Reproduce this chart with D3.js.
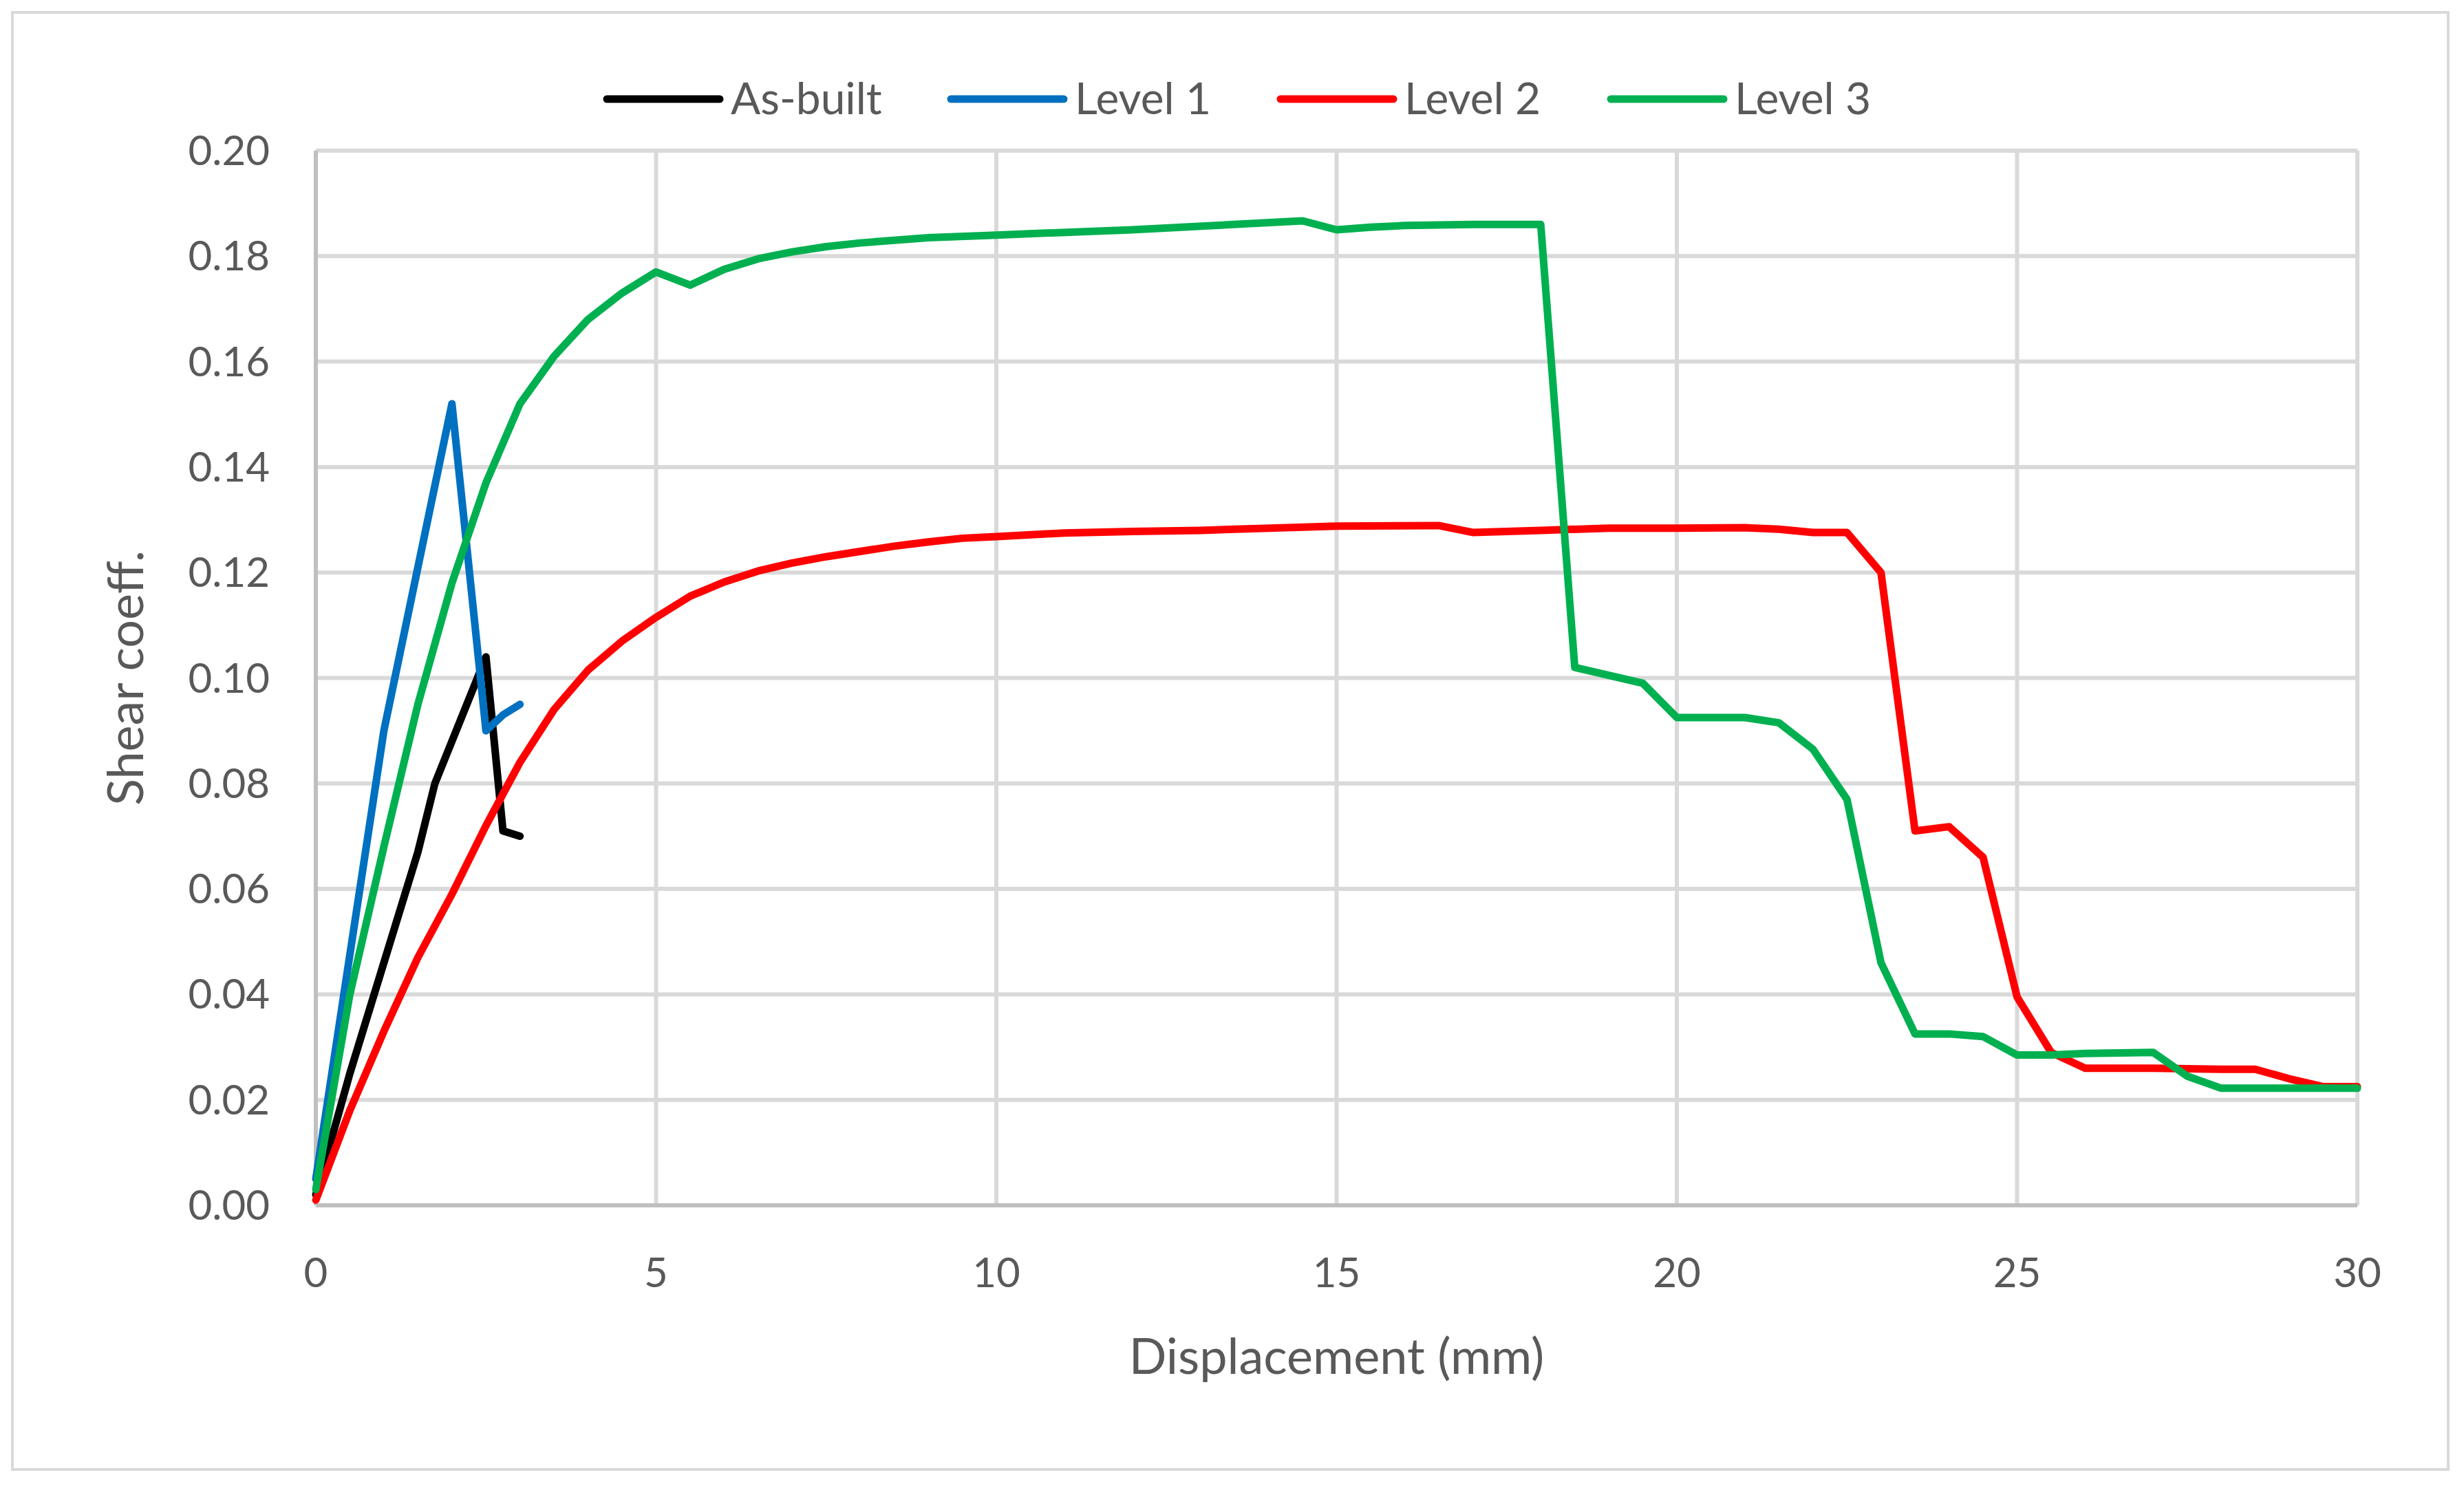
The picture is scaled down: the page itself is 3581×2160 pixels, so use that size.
<!DOCTYPE html>
<html><head><meta charset="utf-8">
<script src="https://cdn.jsdelivr.net/npm/d3@7"></script>
<style>body{margin:0;background:#fff}text{font-family:Lato,"Open Sans",sans-serif;fill:#595959}</style>
</head><body><svg id="c" width="3581" height="2160"></svg>
<script>
// series as [displacement mm, shear coeff]
const asBuilt = [[0,0.002],[0.5,0.025],[1,0.046],[1.5,0.067],[1.75,0.08],[2.5,0.104],[2.75,0.071],[3,0.070]];
const level1 = [[0,0.005],[1,0.09],[2,0.152],[2.5,0.090],[2.75,0.093],[3,0.095]];
const level2 = [[0,0.001],[0.5,0.018],[1,0.033],[1.5,0.047],[2,0.059],[2.5,0.072],[3,0.084],[3.5,0.094],[4,0.1015],[4.5,0.107],[5,0.1115],[5.5,0.1155],[6,0.1182],[6.5,0.1203],[7,0.1218],[7.5,0.123],[8,0.124],[8.5,0.125],[9,0.1258],[9.5,0.1265],[10,0.1268],[11,0.1275],[12,0.1278],[13,0.128],[15,0.1288],[16.5,0.1289],[17,0.1276],[18,0.128],[19,0.1284],[20,0.1284],[21,0.1285],[21.5,0.1282],[22,0.1276],[22.5,0.1276],[23,0.12],[23.5,0.071],[24,0.0718],[24.5,0.066],[25,0.0395],[25.5,0.029],[26,0.026],[27,0.026],[28,0.0258],[28.5,0.0258],[29,0.024],[29.5,0.0225],[30,0.0225]];
const level3 = [[0,0.003],[0.5,0.04],[1,0.068],[1.5,0.095],[2,0.118],[2.5,0.137],[3,0.152],[3.5,0.161],[4,0.168],[4.5,0.173],[5,0.177],[5.5,0.1745],[6,0.1775],[6.5,0.1795],[7,0.1808],[7.5,0.1818],[8,0.1825],[9,0.1835],[10,0.184],[12,0.185],[14.5,0.1867],[15,0.185],[15.5,0.1855],[16,0.1858],[17,0.186],[18,0.186],[18.5,0.102],[19,0.1005],[19.5,0.099],[20,0.0925],[21,0.0925],[21.5,0.0915],[22,0.0865],[22.5,0.077],[23,0.046],[23.5,0.0325],[24,0.0325],[24.5,0.032],[25,0.0285],[25.5,0.0285],[26,0.0288],[27,0.029],[27.5,0.0245],[28,0.0222],[29,0.0222],[30,0.0222]];
const seriesNames = ["As-built","Level 1","Level 2","Level 3"];
const seriesColors = ["#000000","#0070c0","#ff0000","#00b050"];
const seriesData = [asBuilt, level1, level2, level3];
const xTicks = [0,5,10,15,20,25,30];
const yTicks = d3.range(0, 0.2001, 0.02);

const svg = d3.select("#c");
const L = 459, R = 3426, T = 219, B = 1752;
const x = d3.scaleLinear().domain([0,30]).range([L,R]);
const y = d3.scaleLinear().domain([0,0.2]).range([B,T]);

svg.append("rect").attr("x",18).attr("y",18).attr("width",3540).attr("height",2118)
  .attr("fill","#fff").attr("stroke","#d9d9d9").attr("stroke-width",4);

// grid
svg.append("g").selectAll("line").data(yTicks).join("line")
  .attr("x1",L).attr("x2",R).attr("y1",d=>y(d)).attr("y2",d=>y(d))
  .attr("stroke","#d9d9d9").attr("stroke-width",6);
svg.append("g").selectAll("line").data(xTicks).join("line")
  .attr("y1",T).attr("y2",B).attr("x1",d=>x(d)).attr("x2",d=>x(d))
  .attr("stroke","#d9d9d9").attr("stroke-width",6);
svg.append("line").attr("x1",L).attr("x2",R).attr("y1",B).attr("y2",B).attr("stroke","#bfbfbf").attr("stroke-width",6);
svg.append("line").attr("x1",L).attr("x2",L).attr("y1",T).attr("y2",B).attr("stroke","#bfbfbf").attr("stroke-width",6);

// tick labels
svg.append("g").selectAll("text").data(yTicks).join("text")
  .attr("x",392).attr("y",d=>y(d)).attr("dy","0.35em").attr("text-anchor","end")
  .attr("font-size",60).text(d=>d.toFixed(2));
svg.append("g").selectAll("text").data(xTicks).join("text")
  .attr("x",d=>x(d)).attr("y",1850).attr("dy","0.35em").attr("text-anchor","middle")
  .attr("font-size",60).text(d=>d);

svg.append("text").attr("x",(L+R)/2).attr("y",1972).attr("dy","0.35em").attr("text-anchor","middle")
  .attr("font-size",72).text("Displacement (mm)");
svg.append("text").attr("transform","translate(183,"+((T+B)/2)+") rotate(-90)").attr("dy","0.35em")
  .attr("text-anchor","middle").attr("font-size",72).text("Shear coeff.");

// lines
const lineGen = d3.line().x(d=>x(d[0])).y(d=>y(d[1]));
seriesData.forEach((s,i)=>{
  svg.append("path").datum(s).attr("d",lineGen).attr("fill","none")
    .attr("stroke",seriesColors[i]).attr("stroke-width",11).attr("stroke-linejoin","round").attr("stroke-linecap","round");
});

// legend
const legX = [882,1382,1861,2341];
seriesNames.forEach((n,i)=>{
  svg.append("line").attr("x1",legX[i]).attr("x2",legX[i]+164).attr("y1",144).attr("y2",144)
    .attr("stroke",seriesColors[i]).attr("stroke-width",11).attr("stroke-linecap","round");
  svg.append("text").attr("x",legX[i]+180).attr("y",144).attr("dy","0.35em").attr("font-size",64).text(n);
});
</script></body></html>
